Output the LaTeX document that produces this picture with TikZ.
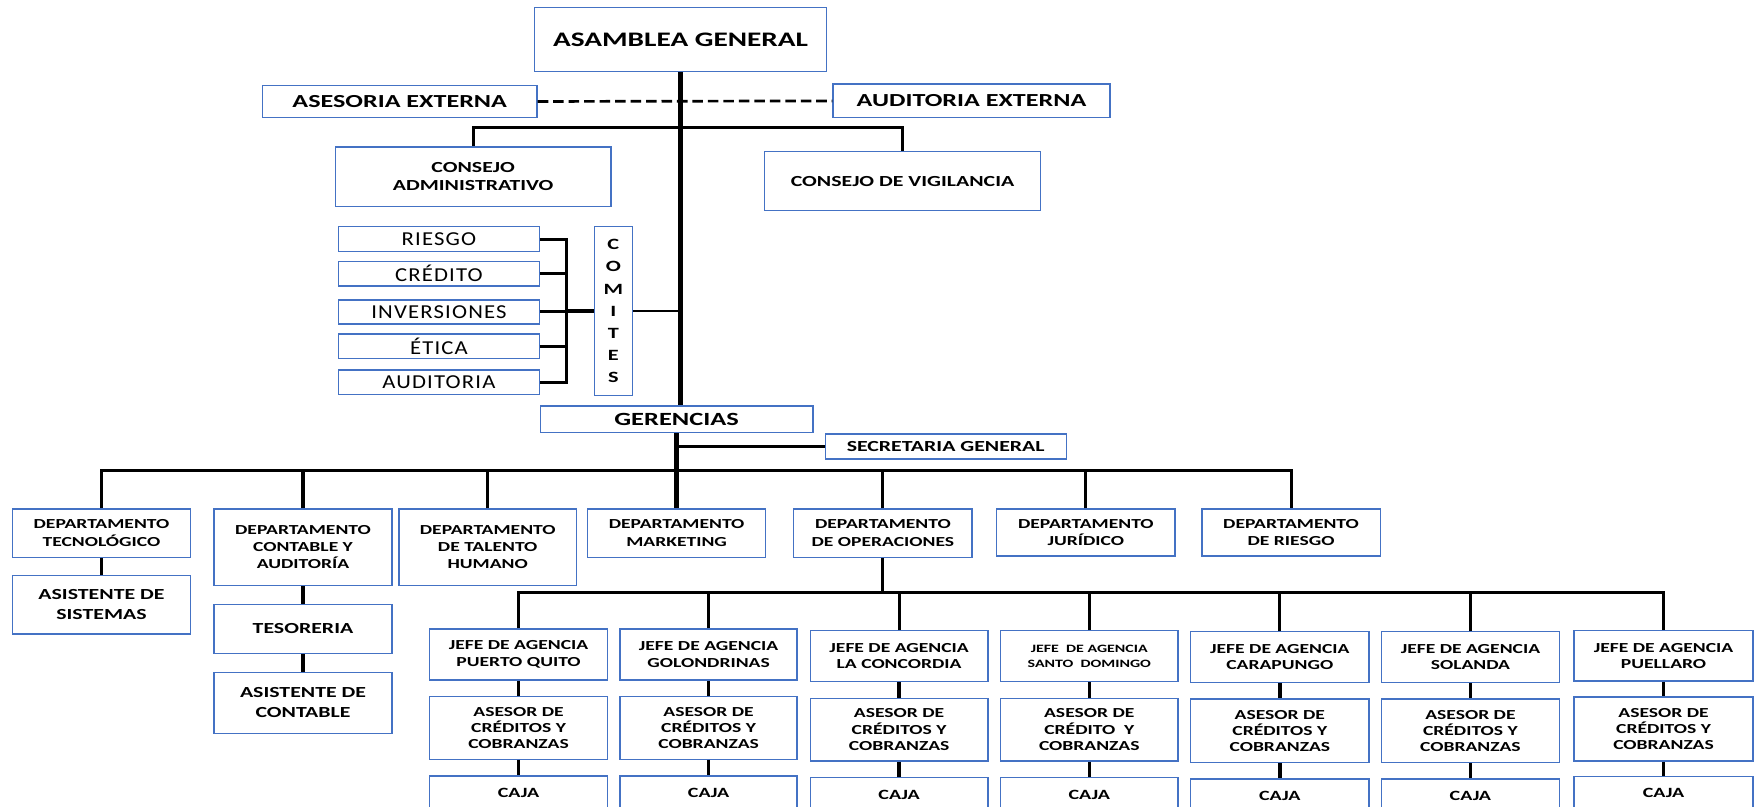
\documentclass[tikz,border=0pt]{standalone}
\usepackage{fontspec}
\setmainfont{Carlito}
\newfontfamily\wide{Carlito}[FakeStretch=1.42]
\newfontfamily\comfont{Carlito}[FakeStretch=1.15,LetterSpace=6]
\definecolor{bxblue}{HTML}{4472C4}
\newcommand\obox[7]{\node[#1, minimum width={(#5-#3)*0.5pt}, minimum height={(#6-#4)*0.5pt}] (#2) at ({(#3+#5)/2},{(#4+#6)/2}) {#7};}
\tikzset{
  ob/.style={draw=bxblue, line width=0.6pt, fill=white, inner sep=0pt, align=center, text=black},
  big/.style={ob, font=\wide\bfseries\fontsize{9.2pt}{11pt}\selectfont},
  ext/.style={ob, font=\wide\bfseries\fontsize{8.2pt}{10pt}\selectfont},
  cons/.style={ob, font=\wide\bfseries\fontsize{6.85pt}{8.2pt}\selectfont},
  sub/.style={ob, font=\wide\bfseries\fontsize{6.85pt}{8.9pt}\selectfont},
  com/.style={ob, font=\comfont\fontsize{8.8pt}{10pt}\selectfont},
  comt/.style={ob, font=\wide\bfseries\fontsize{7pt}{9.9pt}\selectfont},
  ger/.style={ob, font=\wide\bfseries\fontsize{8.3pt}{10pt}\selectfont},
  dept/.style={ob, font=\wide\bfseries\fontsize{6.15pt}{7.7pt}\selectfont},
  jefe/.style={ob, font=\wide\bfseries\fontsize{6.15pt}{7.4pt}\selectfont},
  jefesm/.style={ob, font=\wide\bfseries\fontsize{5pt}{6.5pt}\selectfont},
  ases/.style={ob, font=\wide\bfseries\fontsize{6.15pt}{7.2pt}\selectfont},
  caja/.style={ob, font=\wide\bfseries\fontsize{6.3pt}{7.5pt}\selectfont},
  link/.style={line width=1.35pt, black},
  link2/.style={line width=1.5pt, black},
  trunkline/.style={line width=1.9pt, black},
  trunklow/.style={line width=2.2pt, black},
  thicklink/.style={line width=1.6pt, black},
  thinlink/.style={line width=0.75pt, black},
  seclink/.style={line width=1.1pt, black},
  dashline/.style={line width=1.2pt, black, dash pattern=on 4.7pt off 2.2pt},
}
\begin{document}
\begin{tikzpicture}[x=0.5pt, y=-0.5pt]
\path[use as bounding box] (0,0) rectangle (1568,719);
\clip (0,0) rectangle (1568,719);
% top
\obox{big}{asam}{477}{6.5}{737}{64}{ASAMBLEA GENERAL}
\obox{ext}{aseso}{234}{76}{479}{105}{ASESORIA EXTERNA}
\obox{ext}{audit}{743}{75}{990}{105}{AUDITORIA EXTERNA}
\obox{cons}{cadm}{299}{131}{545}{184}{CONSEJO\\ADMINISTRATIVO}
\obox{cons}{cvig}{682}{135}{928}{188}{CONSEJO DE VIGILANCIA}
% committees
\obox{com}{c1}{302}{202}{481}{224.5}{RIESGO}
\obox{com}{c2}{302}{233}{481}{255}{CRÉDITO}
\obox{com}{c3}{302}{267.5}{481}{289}{INVERSIONES}
\obox{com}{c4}{302}{298}{481}{320}{ÉTICA}
\obox{com}{c5}{302}{330}{481}{352}{AUDITORIA}
\obox{comt}{comites}{530}{202}{564}{353}{C\\O\\M\\I\\T\\E\\S}
\obox{ger}{ger}{482}{362}{725}{386}{GERENCIAS}
\obox{cons}{secr}{736}{387}{951}{409.5}{SECRETARIA GENERAL}
% departments
\obox{dept}{d1}{11}{454}{170}{497}{DEPARTAMENTO\\TECNOLÓGICO}
\obox{dept}{d2}{191}{454}{349.5}{522}{DEPARTAMENTO\\CONTABLE Y\\AUDITORÍA}
\obox{dept}{d3}{356}{454}{514}{522}{DEPARTAMENTO\\DE TALENTO\\HUMANO}
\obox{dept}{d4}{524}{454}{683}{497}{DEPARTAMENTO\\MARKETING}
\obox{dept}{d5}{708}{454}{867}{497}{DEPARTAMENTO\\DE OPERACIONES}
\obox{dept}{d6}{889}{454}{1048}{496}{DEPARTAMENTO\\JURÍDICO}
\obox{dept}{d7}{1072}{454}{1231}{496}{DEPARTAMENTO\\DE RIESGO}
\obox{sub}{s1}{11}{513}{170}{565.5}{ASISTENTE DE\\SISTEMAS}
\obox{sub}{s2}{191}{539}{349.5}{583}{TESORERIA}
\obox{sub}{s3}{191}{600}{349.5}{654}{ASISTENTE DE\\CONTABLE}
% agencies
\obox{jefe}{j1}{383}{561}{542}{606.5}{JEFE DE AGENCIA\\PUERTO QUITO}
\obox{jefe}{j2}{553}{561}{711}{606.5}{JEFE DE AGENCIA\\GOLONDRINAS}
\obox{jefe}{j3}{722.7}{562.5}{881.2}{608}{JEFE DE AGENCIA\\LA CONCORDIA}
\obox{jefesm}{j4}{892.3}{562.5}{1050.8}{608}{JEFE~~DE AGENCIA\\SANTO~~DOMINGO}
\obox{jefe}{j5}{1062}{563.4}{1221}{608.6}{JEFE DE AGENCIA\\CARAPUNGO}
\obox{jefe}{j6}{1232}{563.4}{1391}{608.6}{JEFE DE AGENCIA\\SOLANDA}
\obox{jefe}{j7}{1404}{562.5}{1563.5}{607.4}{JEFE DE AGENCIA\\PUELLARO}
\obox{ases}{a1}{383}{621.4}{542}{677.2}{ASESOR DE\\CRÉDITOS Y\\COBRANZAS}
\obox{ases}{a2}{553}{621.4}{711}{677.2}{ASESOR DE\\CRÉDITOS Y\\COBRANZAS}
\obox{ases}{a3}{722.7}{622.8}{881.2}{678.7}{ASESOR DE\\CRÉDITOS Y\\COBRANZAS}
\obox{ases}{a4}{892.3}{622.8}{1050.8}{678.7}{ASESOR DE\\CRÉDITO~~Y\\COBRANZAS}
\obox{ases}{a5}{1062}{623.4}{1221}{680.2}{ASESOR DE\\CRÉDITOS Y\\COBRANZAS}
\obox{ases}{a6}{1232}{623.4}{1391}{680.2}{ASESOR DE\\CRÉDITOS Y\\COBRANZAS}
\obox{ases}{a7}{1404}{621.6}{1563.5}{678.7}{ASESOR DE\\CRÉDITOS Y\\COBRANZAS}
\obox{caja}{k1}{383}{692}{542}{722}{CAJA}
\obox{caja}{k2}{553}{692}{711}{722}{CAJA}
\obox{caja}{k3}{722.7}{693.6}{881.2}{723.6}{CAJA}
\obox{caja}{k4}{892.3}{693.6}{1050.8}{723.6}{CAJA}
\obox{caja}{k5}{1062}{694.8}{1221}{724.8}{CAJA}
\obox{caja}{k6}{1232}{694.8}{1391}{724.8}{CAJA}
\obox{caja}{k7}{1404}{692.5}{1563.5}{722.5}{CAJA}
% connectors
\draw[trunkline] (asam.south) -- (asam.south |- ger.north);
\draw[dashline] (aseso.east) -- (audit.west);
\coordinate (cb) at (607,114);
\draw[link] (cadm.north) |- (cb) -| (cvig.north);
\coordinate (brk) at (505,277.5);
\draw[link] (c1.east) -| (brk) |- (c5.east);
\foreach \c in {c2,c3,c4} \draw[link] (\c.east) -- (\c.east -| brk);
\draw[thicklink] (brk) -- (comites.west);
\draw[thinlink] (comites.east) -- (comites.east -| asam.south);
\draw[trunklow] (ger.south) -- (ger.south |- d4.north);
\draw[seclink] (ger.south |- secr.west) -- (secr.west);
\coordinate (bus) at (0,419.5);
\draw[link] (d1.north) |- (bus -| d7.north) -- (d7.north);
\foreach \d in {d2,d3,d5,d6} \draw[link] (\d.north) -- (\d.north |- bus);
\draw[link] (d1.south) -- (s1.north);
\draw[link] (d2.south) -- (s2.north);
\draw[link] (s2.south) -- (s3.north);
\coordinate (bus2) at (0,528.3);
\draw[link] (d5.south) -- (d5.south |- bus2);
\draw[link] (j1.north) |- (bus2 -| j7.north) -- (j7.north);
\foreach \j in {j2,j3,j4,j5,j6} \draw[link] (\j.north) -- (\j.north |- bus2);
\foreach \i in {1,...,7} {
  \draw[link2] (j\i.south) -- (a\i.north);
  \draw[link2] (a\i.south) -- (k\i.north);
}
\end{tikzpicture}
\end{document}
